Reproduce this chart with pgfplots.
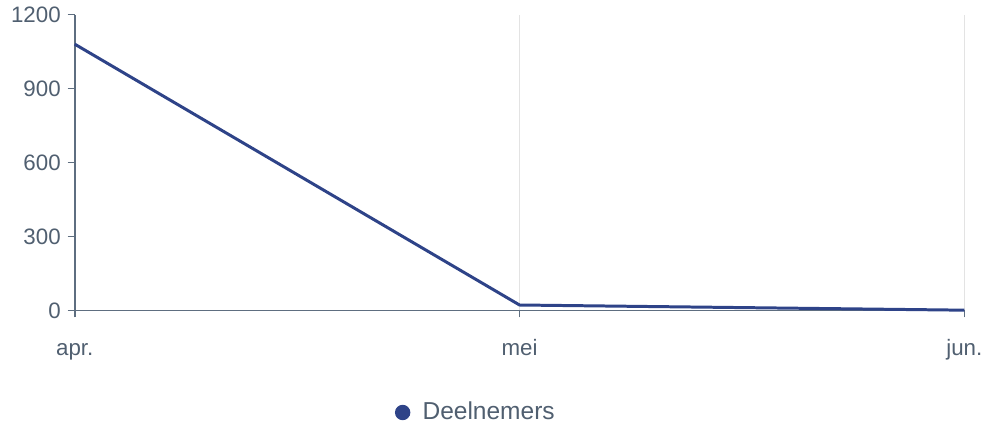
\documentclass[border=0pt]{standalone}
\usepackage{fontspec}
\setmainfont{Liberation Sans}
\usepackage{pgfplots}
\pgfplotsset{compat=1.18}
\definecolor{axisgray}{HTML}{5E6E80}
\definecolor{textgray}{HTML}{505F70}
\definecolor{linecol}{HTML}{2E4388}
\definecolor{gridgray}{HTML}{E3E3E3}
\begin{document}
\begin{tikzpicture}
\begin{axis}[
  scale only axis,
  width=446.5pt, height=148.5pt,
  xmin=0, xmax=2, ymin=0, ymax=1200,
  axis x line*=bottom, axis y line*=left,
  axis line style={axisgray, line width=0.8pt, -},
  xtick={0,1,2}, xticklabels={apr.,mei,jun.},
  ytick={0,300,600,900,1200},
  tick style={axisgray, line width=0.8pt},
  tick align=outside,
  major tick length=3.5pt,
  xmajorgrids, major x grid style={gridgray, line width=0.7pt},
  ymajorgrids=false,
  ticklabel style={font=\fontsize{11.2}{13}\selectfont, text=textgray},
  /pgf/number format/assume math mode=true,
  /pgf/number format/1000 sep={},
  xticklabel style={anchor=base, yshift=-19pt},
  legend style={draw=none, at={(0.452,-0.345)}, anchor=center, font=\fontsize{12.3}{14}\selectfont, text=textgray},
  legend cell align=left,
  clip=false,
]
\addplot[linecol, line width=1.5pt, legend image code/.code={\path[draw=none,fill=none] (-3.2pt,0) -- (8pt,0); \fill[linecol] (0pt,0) circle (3.1pt);}] coordinates {(0,1080) (1,22) (2,1)};
\addlegendentry{Deelnemers}
\end{axis}
\path (current axis.south west) ++(-37.5pt,-58.5pt) coordinate (bl);
\path (current axis.north east) ++(10.5pt,7pt) coordinate (tr);
\useasboundingbox (bl) rectangle (tr);
\end{tikzpicture}
\end{document}
